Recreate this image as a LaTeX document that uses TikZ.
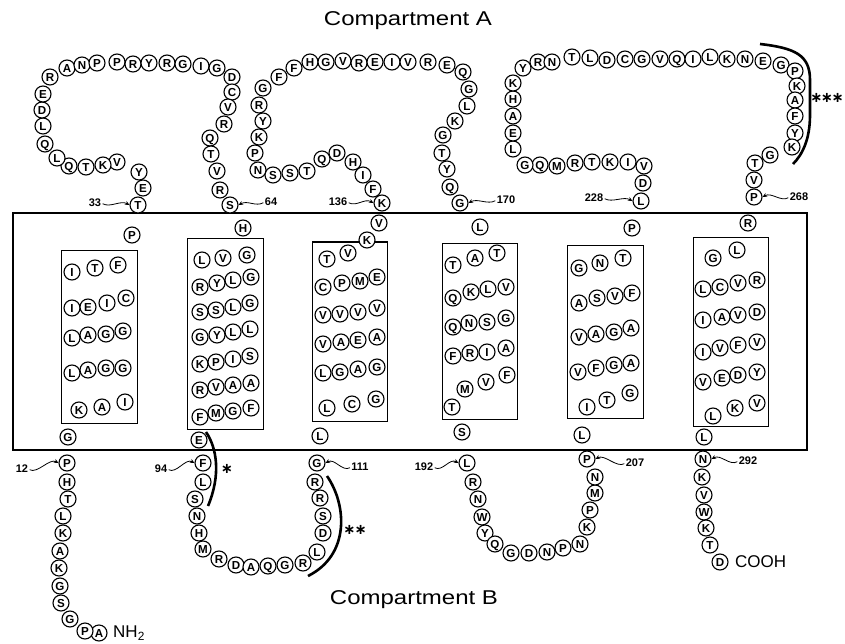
\documentclass[tikz,border=0pt]{standalone}
\usepackage{fontspec}
\setmainfont{Liberation Sans}
\newfontfamily\starfont{DejaVu Sans}
\usetikzlibrary{arrows.meta}
\tikzset{
 res/.style={circle, draw, line width=1.1pt, fill=white, minimum size=16pt, inner sep=0pt, text height=8.3pt, text depth=0pt, font=\bfseries\fontsize{11.6}{11.6}\selectfont},
 numlab/.style={inner sep=0pt, font=\bfseries\fontsize{11}{11}\selectfont},
 squig/.style={line width=0.8pt, shorten <=1.5pt, -{Stealth[length=4.5pt,width=4pt]}},
 helixbox/.style={draw, line width=1pt},
 membrane/.style={draw, line width=1.1pt},
 bracket/.style={line width=2.6pt},
 comp/.style={font=\fontsize{20}{20}\selectfont, inner sep=0pt},
 term/.style={font=\fontsize{17}{17}\selectfont, inner sep=0pt, anchor=west},
 star/.style={font=\starfont\bfseries\fontsize{14.5}{14.5}\selectfont, inner sep=0pt},
}
\begin{document}
\begin{tikzpicture}[x=1pt,y=-1pt]
\useasboundingbox (0,0) rectangle (845,644);
% membrane and helix boxes
\draw[membrane] (13,213) rectangle (807,450);
\draw[helixbox] (61,250) rectangle (137,423);
\draw[helixbox] (187,239) rectangle (263,429);
\draw[helixbox] (312,242) rectangle (387,421);
\draw[helixbox] (442,243) rectangle (517,419);
\draw[helixbox] (567,245) rectangle (643,418);
\draw[helixbox] (693,238) rectangle (768,426);
% brackets
\draw[bracket] (760,44) .. controls (795,48) and (810,55) .. (810,80) -- (810,115) .. controls (810,140) and (802,155) .. (793,164);
\draw[bracket] (206,432) .. controls (217,448) and (221,475) .. (208,506);
\draw[bracket] (327,476) .. controls (347,505) and (350,555) .. (308,576);
% N-terminus
\foreach \x/\y/\t [count=\i] in {99/633/A, 85/631/P, 70/619/G, 61/603/S, 60/586/G, 59/568/K, 60/551/A, 63/533/K, 63/516/L, 68/499/T, 67/482/H}
  \node[res] (nt\i) at (\x,\y) {\t};
\node[res] (n12) at (67,463) {P};
% helix 1
\foreach \x/\y/\t [count=\i] in {68/437/G, 79/410/K, 102/407/A, 125/402/I, 72/373/L, 88/370/A, 106/368/G, 123/368/G, 72/338/L, 88/335/A, 106/334/G, 123/331/G, 72/308/I, 88/307/E, 107/303/I, 126/298/C, 72/272/I, 95/268/T, 118/265/F, 132/235/P}
  \node[res] (ha\i) at (\x,\y) {\t};
\node[res] (n33) at (138,205) {T};
% loop 1
\foreach \x/\y/\t [count=\i] in {143/188/E, 139/172/Y, 117/162/V, 103/165/K, 86/167/T, 69/166/Q, 57/158/L, 45/144/Q, 43/126/L, 42/110/D, 43/94/E, 50/77/R, 67/68/A, 82/65/N, 97/63/P, 117/62/P, 133/64/R, 149/63/Y, 167/63/R, 183/64/G, 201/66/I, 217/68/G, 232/77/D, 232/92/C, 228/107/V, 224/124/R, 210/138/Q, 211/154/T, 217/171/V, 220/190/R}
  \node[res] (la\i) at (\x,\y) {\t};
\node[res] (n64) at (230,205) {S};
% helix 2
\foreach \x/\y/\t [count=\i] in {243/228/H, 202/260/L, 223/258/V, 247/255/G, 200/287/R, 217/283/Y, 233/280/L, 251/277/G, 200/312/S, 216/310/S, 233/307/L, 250/303/G, 200/337/G, 217/335/Y, 233/332/L, 250/329/L, 200/364/K, 216/362/P, 233/359/I, 250/356/S, 200/390/R, 216/387/V, 233/385/A, 251/383/A, 200/417/F, 216/413/M, 233/411/G, 251/408/F, 199/440/E}
  \node[res] (hb\i) at (\x,\y) {\t};
\node[res] (n94) at (203,463) {F};
% loop 2
\foreach \x/\y/\t [count=\i] in {203/482/L, 195/499/S, 197/516/N, 199/533/H, 203/549/M, 219/559/R, 236/565/D, 251/567/A, 268/566/Q, 285/565/G, 303/563/R, 317/552/L, 323/533/D, 323/516/S, 320/498/R, 315/482/R}
  \node[res] (lb\i) at (\x,\y) {\t};
\node[res] (n111) at (317,463) {G};
% helix 3
\foreach \x/\y/\t [count=\i] in {320/436/L, 327/408/L, 352/404/C, 376/399/G, 323/373/L, 340/372/G, 358/369/A, 377/367/G, 323/344/V, 341/342/A, 358/340/E, 377/337/A, 323/315/V, 340/314/V, 358/312/V, 377/308/V, 323/287/C, 342/283/P, 360/281/M, 377/277/E, 327/259/T, 348/253/V, 367/240/K, 379/223/V}
  \node[res] (hc\i) at (\x,\y) {\t};
\node[res] (n136) at (382,203) {K};
% loop 3
\foreach \x/\y/\t [count=\i] in {373/189/F, 363/175/I, 353/162/H, 337/153/D, 322/159/Q, 307/171/T, 290/173/S, 273/175/S, 258/170/N, 255/153/P, 259/137/K, 263/121/Y, 259/105/R, 263/88/G, 279/77/F, 294/68/F, 310/62/H, 326/62/G, 343/61/V, 359/63/R, 375/62/E, 392/62/I, 408/62/V, 428/62/R, 447/65/E, 463/72/Q, 469/89/G, 467/106/L, 455/121/K, 443/135/G, 442/153/T, 447/169/Y, 450/187/Q}
  \node[res] (lc\i) at (\x,\y) {\t};
\node[res] (n170) at (460,203) {G};
% helix 4
\foreach \x/\y/\t [count=\i] in {480/227/L, 497/253/T, 475/258/A, 453/265/T, 453/298/Q, 471/292/K, 488/289/L, 506/287/V, 453/327/Q, 469/323/N, 487/322/S, 506/318/G, 453/356/F, 470/353/R, 487/352/I, 506/348/A, 507/375/F, 486/382/V, 465/389/M, 452/407/T, 462/432/S}
  \node[res] (hd\i) at (\x,\y) {\t};
\node[res] (n192) at (467,463) {L};
% loop 4
\foreach \x/\y/\t [count=\i] in {473/482/R, 478/499/N, 482/517/W, 485/533/Y, 495/544/Q, 511/553/G, 529/553/D, 547/552/N, 563/548/P, 580/544/N, 587/527/K, 590/510/P, 595/493/M, 595/477/N}
  \node[res] (ld\i) at (\x,\y) {\t};
\node[res] (n207) at (587,459) {P};
% helix 5
\foreach \x/\y/\t [count=\i] in {582/435/L, 587/407/I, 607/400/T, 630/393/G, 578/372/V, 596/368/F, 614/365/G, 631/363/A, 579/337/V, 596/334/A, 614/332/G, 631/328/A, 579/303/A, 597/298/S, 615/296/V, 632/293/F, 579/268/G, 600/263/N, 623/258/T, 632/228/P}
  \node[res] (he\i) at (\x,\y) {\t};
\node[res] (n228) at (641,201) {L};
% loop 5
\foreach \x/\y/\t [count=\i] in {643/183/D, 644/166/V, 628/162/I, 610/162/K, 592/162/T, 575/163/R, 557/166/M, 540/165/Q, 525/165/G, 513/149/L, 513/133/E, 513/116/A, 513/99/H, 513/83/K, 523/68/Y, 538/62/R, 552/62/N, 572/57/T, 590/58/L, 607/60/D, 625/59/C, 642/59/G, 660/59/V, 677/59/Q, 693/59/I, 710/57/L, 727/59/K, 745/59/N, 763/61/E, 781/65/G, 795/71/P, 797/86/K, 795/100/A, 795/116/F, 795/133/Y, 792/147/K, 770/155/G, 755/163/T, 754/180/V}
  \node[res] (le\i) at (\x,\y) {\t};
\node[res] (n268) at (754,197) {P};
% helix 6
\foreach \x/\y/\t [count=\i] in {748/223/R, 737/250/L, 713/258/G, 703/289/L, 720/287/C, 738/283/V, 757/280/R, 703/320/I, 722/317/A, 738/315/V, 757/312/D, 703/352/I, 720/348/V, 738/345/F, 757/342/V, 703/382/V, 722/378/E, 738/375/D, 757/372/Y, 713/416/L, 735/408/K, 757/403/V, 704/437/L}
  \node[res] (hf\i) at (\x,\y) {\t};
\node[res] (n292) at (703,459) {N};
% C-terminus
\foreach \x/\y/\t [count=\i] in {702/477/K, 704/495/V, 704/512/W, 706/528/K, 710/545/T, 720/562/D}
  \node[res] (ct\i) at (\x,\y) {\t};
% number labels
\node[numlab] (l12) at (22,469) {12};
\node[numlab] (l33) at (95,203) {33};
\node[numlab] (l64) at (271,202) {64};
\node[numlab] (l94) at (161,469) {94};
\node[numlab] (l111) at (360,467) {111};
\node[numlab] (l136) at (338,202) {136};
\node[numlab] (l170) at (506,200) {170};
\node[numlab] (l192) at (424,467) {192};
\node[numlab] (l207) at (635,463) {207};
\node[numlab] (l228) at (594,198) {228};
\node[numlab] (l268) at (799,197) {268};
\node[numlab] (l292) at (748,461) {292};
\foreach \a in {12,33,94,136,192,228}
  \draw[squig] (l\a.east) .. controls +(9,5) and +(-9,-5) .. (n\a.west);
\foreach \a in {64,111,170,207,268,292}
  \draw[squig] (l\a.west) .. controls +(-9,5) and +(9,-5) .. (n\a.east);
% stars
\node[star] (s1) at (227,469) {∗};
\node[star] (s2) at (355,530) {∗\kern-1pt∗};
\node[star] (s3) at (827,98) {∗\kern-1.5pt∗\kern-1.5pt∗};
% texts
\node[comp] (ca) at (408,21) {\scalebox{1.2}[1]{Compartment A}};
\node[comp] (cb) at (414,600) {\scalebox{1.2}[1]{Compartment B}};
\node[term] (nh2) at (113,633) {NH\textsubscript{2}};
\node[term] (cooh) at (735,562) {COOH};
\end{tikzpicture}
\end{document}
